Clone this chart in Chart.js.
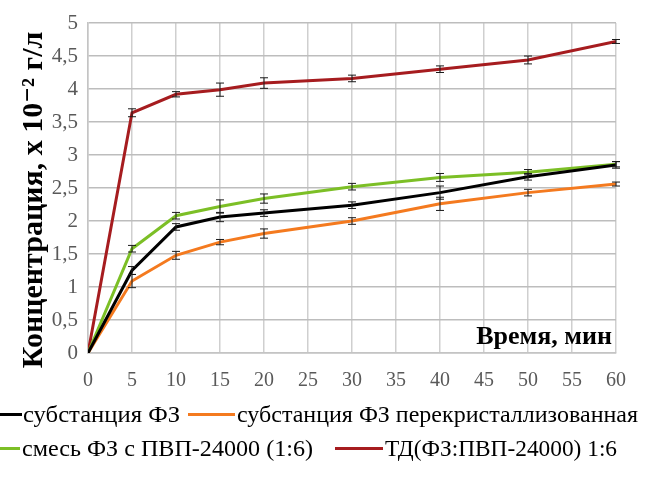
<!DOCTYPE html>
<html>
<head>
<meta charset="utf-8">
<script src="https://cdn.jsdelivr.net/npm/chart.js@4.4.0/dist/chart.umd.min.js"></script>
<style>
  body { margin: 0; background: #fff; }
  #wrap { position: relative; width: 645px; height: 483px; }
  .lg { position: absolute; font-family: "Times New Roman", "Liberation Serif", "DejaVu Serif", serif; font-size: 24px; color: #000; white-space: nowrap; line-height: 30px; transform-origin: 0 50%; }
  .mk { position: absolute; height: 3px; }
</style>
</head>
<body>
<div id="wrap">
  <canvas id="chart" width="645" height="483"></canvas>
  <div id="legend"></div>
</div>
<script>
// ---------------- DATA ----------------
const times = [0, 5, 10, 15, 20, 30, 40, 50, 60];

const substance    = [0, 1.25, 1.91, 2.06, 2.12, 2.24, 2.43, 2.67, 2.85];
const recryst      = [0, 1.09, 1.48, 1.68, 1.81, 2.00, 2.26, 2.43, 2.56];
const mixPvp       = [0, 1.58, 2.08, 2.22, 2.34, 2.52, 2.66, 2.74, 2.86];
const solidDisp    = [0, 3.64, 3.92, 3.99, 4.09, 4.16, 4.30, 4.44, 4.72];

const substanceErr = [0, 0.06, 0.05, 0.07, 0.05, 0.05, 0.10, 0.05, 0.05];
const recrystErr   = [0, 0.10, 0.06, 0.04, 0.07, 0.05, 0.10, 0.05, 0.03];
const mixPvpErr    = [0, 0.05, 0.05, 0.10, 0.07, 0.05, 0.06, 0.04, 0.04];
const solidDispErr = [0, 0.06, 0.04, 0.10, 0.08, 0.05, 0.05, 0.06, 0.03];

const seriesNames = [
  "субстанция ФЗ",
  "субстанция ФЗ перекристаллизованная",
  "смесь ФЗ с ПВП-24000 (1:6)",
  "ТД(ФЗ:ПВП-24000) 1:6"
];
const xTicks = [0, 5, 10, 15, 20, 25, 30, 35, 40, 45, 50, 55, 60];
const yTicks = [0, 0.5, 1, 1.5, 2, 2.5, 3, 3.5, 4, 4.5, 5];

const yTitle = "Концентрация, х 10⁻² г/л";
const xTitle = "Время, мин";

// ---------------- STYLE ----------------
const colors = ["#000000", "#f47a1f", "#7cbf26", "#a61c1f"];
const serif = "'Times New Roman', 'Liberation Serif', 'DejaVu Serif', serif";

// legend placement: marker left/width, text left/width, row center
const legendPos = [
  { mx: 0,   mw: 22, tx: 23,  tw: 157, y: 414 },
  { mx: 188, mw: 47, tx: 237, tw: 401, y: 414 },
  { mx: 0,   mw: 20, tx: 22,  tw: 291, y: 448 },
  { mx: 335, mw: 48, tx: 385, tw: 232, y: 448 }
];

function toPoints(vals) {
  return vals.map((v, i) => ({ x: times[i], y: v }));
}

const allValues = [substance, recryst, mixPvp, solidDisp];
const allErrors = [substanceErr, recrystErr, mixPvpErr, solidDispErr];

// error bars drawn through chart scales
const errorBars = {
  id: "errorBars",
  afterDatasetsDraw(chart) {
    const ctx = chart.ctx;
    const xs = chart.scales.x, ys = chart.scales.y;
    ctx.save();
    ctx.strokeStyle = "#1a1a1a";
    ctx.lineWidth = 1;
    allValues.forEach((vals, s) => {
      vals.forEach((v, i) => {
        const e = allErrors[s][i];
        if (!e) return;
        const px = xs.getPixelForValue(times[i]);
        const y1 = ys.getPixelForValue(v + e);
        const y2 = ys.getPixelForValue(v - e);
        ctx.beginPath();
        ctx.moveTo(px, y1); ctx.lineTo(px, y2);
        ctx.moveTo(px - 4, y1); ctx.lineTo(px + 4, y1);
        ctx.moveTo(px - 4, y2); ctx.lineTo(px + 4, y2);
        ctx.stroke();
      });
    });
    ctx.restore();
  }
};

// axis titles
const axisTitles = {
  id: "axisTitles",
  afterDraw(chart) {
    const ctx = chart.ctx;
    const a = chart.chartArea;
    ctx.save();
    ctx.fillStyle = "#000";
    ctx.font = "bold 26px " + serif;
    ctx.textAlign = "right";
    ctx.textBaseline = "alphabetic";
    ctx.fillText(xTitle, a.right - 4, a.bottom - 9);

    ctx.translate(34, 200);
    ctx.rotate(-Math.PI / 2);
    ctx.font = "bold 30px " + serif;
    ctx.textAlign = "center";
    ctx.textBaseline = "middle";
    ctx.fillText(yTitle, 0, 0);
    ctx.restore();
  }
};

new Chart(document.getElementById("chart"), {
  type: "line",
  data: {
    datasets: allValues.map((vals, s) => ({
      label: seriesNames[s],
      data: toPoints(vals),
      borderColor: colors[s],
      backgroundColor: colors[s],
      borderWidth: 3,
      pointRadius: 0,
      tension: 0
    }))
  },
  options: {
    responsive: false,
    animation: false,
    devicePixelRatio: 1,
    layout: { padding: { top: 23, right: 29, left: 0, bottom: 0 } },
    plugins: { legend: { display: false }, tooltip: { enabled: false } },
    scales: {
      x: {
        type: "linear",
        min: 0, max: 60,
        afterBuildTicks: s => { s.ticks = xTicks.map(v => ({ value: v })); },
        afterFit: s => { s.height = 130; },
        grid: { color: "#cfcfcf", lineWidth: 1.5, drawTicks: false },
        border: { color: "#c4c4c4", width: 1.5 },
        ticks: { color: "#595959", font: { family: serif, size: 20 }, padding: 16, maxRotation: 0 }
      },
      y: {
        min: 0, max: 5,
        afterBuildTicks: s => { s.ticks = yTicks.map(v => ({ value: v })); },
        afterFit: s => { s.width = 88; },
        grid: { color: "#bdbdbd", lineWidth: 1.5, drawTicks: false },
        border: { color: "#c4c4c4", width: 1.5 },
        ticks: {
          color: "#595959",
          font: { family: serif, size: 21 },
          padding: 10,
          callback: v => String(v).replace(".", ",")
        }
      }
    }
  },
  plugins: [errorBars, axisTitles]
});

// ---------------- LEGEND ----------------
const legend = document.getElementById("legend");
seriesNames.forEach((name, s) => {
  const p = legendPos[s];
  const mk = document.createElement("div");
  mk.className = "mk";
  mk.style.left = p.mx + "px";
  mk.style.width = p.mw + "px";
  mk.style.top = (p.y - 1) + "px";
  mk.style.background = colors[s];
  legend.appendChild(mk);

  const t = document.createElement("div");
  t.className = "lg";
  t.textContent = name;
  t.style.left = p.tx + "px";
  t.style.top = (p.y - 15) + "px";
  legend.appendChild(t);
  // stretch or shrink the label so it covers the same width as in the picture
  const w = t.getBoundingClientRect().width;
  if (w > 0) t.style.transform = "scaleX(" + (p.tw / w).toFixed(3) + ")";
});
</script>
</body>
</html>
